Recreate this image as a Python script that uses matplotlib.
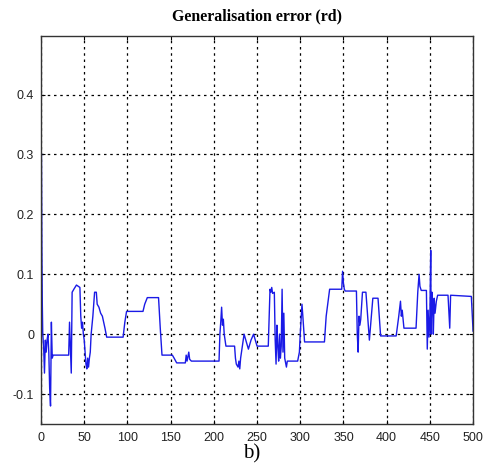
import numpy as np
from matplotlib import pyplot as plt

# traced points of the generalisation error curve (iteration, error in rd)
iters = [0, 0.5, 1, 1.5, 2, 3, 4, 5, 6, 7, 8, 9, 10, 11, 12, 13, 14, 32, 33, 34, 35, 36, 38, 41, 43, 45,
         46, 47, 48, 49, 50, 51, 52, 53, 54, 55, 56, 57, 58, 60, 62, 64, 65, 67, 69, 71, 74, 76, 95, 97, 99,
         118, 120, 123, 136, 138, 140, 152, 154, 157, 167, 168, 169, 171, 172, 174, 206, 207, 208, 209, 210,
         211, 212, 214, 224, 225, 226, 228, 229, 230, 231, 233, 235, 237, 240, 243, 246, 248, 250, 263, 265,
         266, 267, 268, 270, 271, 272, 273, 274, 275, 276, 277, 278, 279, 280, 281, 282, 284, 285, 297, 299,
         300, 302, 303, 305, 328, 330, 334, 348, 349, 350, 351, 352, 365, 366, 367, 368, 369, 370, 372, 376,
         380, 384, 390, 393, 411, 414, 416, 417, 418, 420, 434, 436, 437.5, 438.5, 440, 446, 447, 448, 449,
         450, 451, 451.5, 452.5, 453.5, 454, 455, 456, 457.5, 459, 471, 473, 474, 498, 500]
error = [0.31, 0.30, 0.14, 0.05, 0.0, -0.02, -0.065, -0.01, -0.03, -0.01, 0.0, -0.03, -0.09, -0.12, 0.02,
         -0.04, -0.035, -0.035, 0.02, -0.02, -0.065, 0.07, 0.075, 0.082, 0.08, 0.078,
         0.03, 0.01, 0.02, 0.0, -0.01, -0.03, -0.05, -0.058, -0.04, -0.055, -0.04, -0.03, 0.0, 0.03, 0.07,
         0.07, 0.05, 0.045, 0.035, 0.03, 0.01, -0.005, -0.005, 0.02, 0.038,
         0.038, 0.05, 0.061, 0.061, 0.01, -0.035, -0.035, -0.04, -0.048, -0.048, -0.035, -0.045, -0.03,
         -0.042, -0.045, -0.045, 0.0, 0.02, 0.045, 0.015,
         0.025, 0.0, -0.02, -0.02, -0.04, -0.05, -0.055, -0.045, -0.058, -0.04, -0.02, 0.0, -0.01, -0.025,
         -0.01, 0.0, -0.01, -0.02, -0.02, 0.075,
         0.07, 0.078, 0.068, 0.07, -0.01, -0.05, 0.015, -0.02, -0.045, 0.0, -0.04, -0.02, 0.075, -0.03,
         0.035, -0.04, -0.055, -0.045, -0.045, -0.03,
         0.0, 0.05, 0.03, -0.013, -0.013, 0.03, 0.075, 0.075, 0.105, 0.085, 0.075, 0.072, 0.072, 0.0, -0.03,
         0.03, 0.015, 0.025, 0.07, 0.07,
         -0.01, 0.06, 0.06, -0.003, -0.003, 0.03, 0.055, 0.03, 0.04, 0.01, 0.01, 0.07, 0.1, 0.08, 0.073,
         0.073, -0.025, 0.04, -0.005,
         0.03, 0.14, 0.0, 0.07, 0.04, 0.0, 0.06, 0.035, 0.055, 0.065, 0.065, 0.01, 0.065, 0.063, 0.005]

xticks = [0, 50, 100, 150, 200, 250, 300, 350, 400, 450, 500]
yticks = [-0.1, 0, 0.1, 0.2, 0.3, 0.4]
ytick_labels = ['-0.1', '0', '0.1', '0.2', '0.3', '0.4']

fig = plt.figure(figsize=(4.86, 4.75), dpi=100)
ax = fig.add_axes([0.0844, 0.1074, 0.889, 0.817])

ax.plot(iters, error, color='#1a1ae6', linewidth=1.0)

ax.set_xlim(0, 500)
ax.set_ylim(-0.15, 0.498)
ax.set_xticks(xticks)
ax.set_yticks(yticks)
ax.set_yticklabels(ytick_labels)
ax.tick_params(direction='in', length=3, labelsize=9, top=True, right=True, labelcolor='#222222')
ax.tick_params(axis='x', pad=6)
ax.tick_params(axis='y', pad=5)
for lbl in ax.get_xticklabels() + ax.get_yticklabels():
    lbl.set_family('Liberation Sans')
ax.grid(True, color='black', linestyle=(0, (2, 3)), linewidth=0.9)
for sp in ax.spines.values():
    sp.set_linewidth(1.0)
    sp.set_color('#333333')

ax.set_title('Generalisation error (rd)', family='Liberation Serif', fontweight='bold',
             fontsize=11.4, pad=11)
fig.text(0.518, 0.044, 'b)', family='Liberation Serif', fontsize=15, ha='center', va='center')

plt.savefig('out.png', dpi=100)
